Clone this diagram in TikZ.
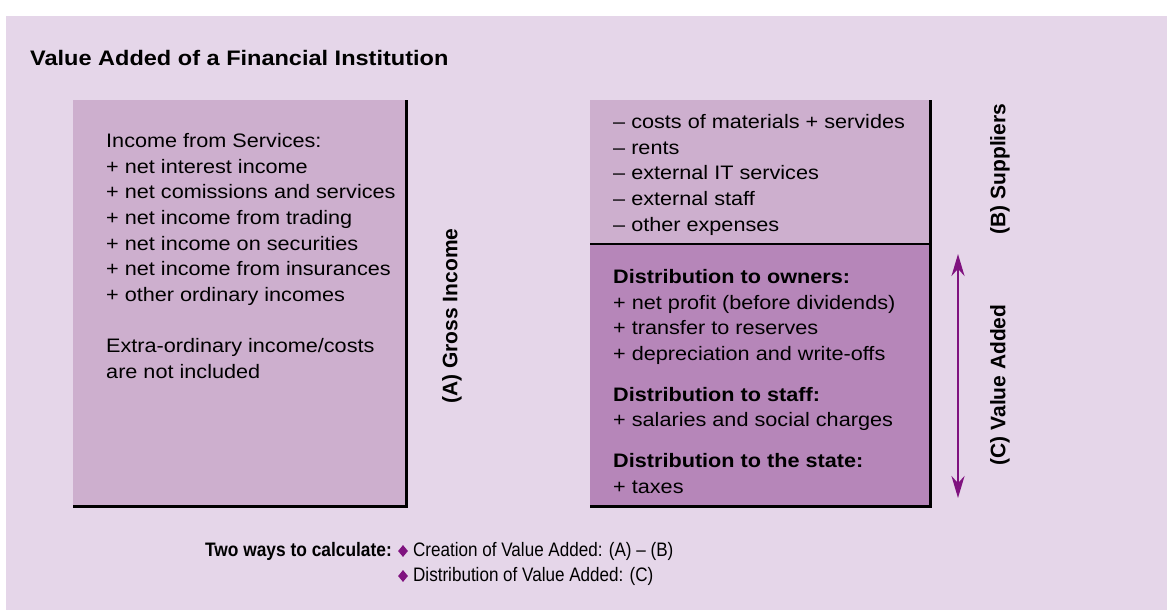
\documentclass[tikz,border=0pt]{standalone}
\usepackage{fontspec}
\setmainfont{Liberation Sans}
\usetikzlibrary{arrows.meta,calc,positioning,shapes.geometric}

\definecolor{bgpurple}{HTML}{E5D6E9}
\definecolor{lightbox}{HTML}{CDAFCE}
\definecolor{darkbox}{HTML}{B686B9}
\definecolor{vapurple}{HTML}{7F127F}

\tikzset{
  boxtext/.style={anchor=north west,inner sep=0pt,align=left,xscale=1.11,
    font=\fontsize{19.5}{25.7}\selectfont},
  sidelabel/.style={rotate=90,inner sep=0pt,font=\fontsize{21}{24}\selectfont\bfseries},
  edgeline/.style={line width=3pt,black},
  bullet/.style={diamond,fill=vapurple,inner sep=0pt,minimum width=10pt,minimum height=12pt},
  waytext/.style={anchor=west,inner sep=0pt,xscale=0.875,font=\fontsize{19.5}{22}\selectfont}
}

\begin{document}
\begin{tikzpicture}[x=1pt,y=-1pt]
\useasboundingbox (0,0) rectangle (1167,610);
\fill[bgpurple] (6,16) rectangle (1167,610);
\coordinate (LTL) at (73,100);
\coordinate (LBR) at (406,506);
\coordinate (RTL) at (590,100);
\coordinate (RMID) at (930,244);
\coordinate (RBR) at (930,506);
%the boxes
\fill[lightbox] (LTL) rectangle (LBR);
\fill[lightbox] (RTL) rectangle (RMID);
\fill[darkbox] (RTL |- RMID) rectangle (RBR);
\draw[edgeline] (LTL -| LBR) -- (LBR) -- (LTL |- LBR);
\draw[edgeline] (RTL -| RBR) -- (RBR) -- (RTL |- RBR);
\draw[edgeline,line width=2.5pt] (RTL |- RMID) -- (RMID);
%title
\node[anchor=west,inner sep=0pt,xscale=1.12,font=\fontsize{21}{24}\selectfont\bfseries] (TITLE) at (30,58) {Value Added of a Financial Institution};
%income
\node[boxtext] (INCOME) at (106,133) {Income from Services:\\
+ net interest income\\
+ net comissions and services\\
+ net income from trading\\
+ net income on securities\\
+ net income from insurances\\
+ other ordinary incomes\\[25.7pt]
Extra-ordinary income/costs\\
are not included};
%suppliers
\node[boxtext] (COSTS) at (613,114) {– costs of materials + servides\\
– rents\\
– external IT services\\
– external staff\\
– other expenses};
%distribution
\node[boxtext] (DISTR) at (613,269) {\textbf{Distribution to owners:}\\
+ net profit (before dividends)\\
+ transfer to reserves\\
+ depreciation and write-offs\\[15pt]
\textbf{Distribution to staff:}\\
+ salaries and social charges\\[15pt]
\textbf{Distribution to the state:}\\
+ taxes};
%side labels
\node[sidelabel] (GROSS) at (452,316) {(A) Gross Income};
\node[sidelabel] (SUPPL) at (1000,169) {(B) Suppliers};
\node[sidelabel] (VALADD) at (1000,385) {(C) Value Added};
\coordinate (VATOP) at (958,254);
\coordinate (VABOT) at (958,498);
\draw[vapurple,line width=2.5pt,{Stealth[width=13pt,length=22pt]}-{Stealth[width=13pt,length=22pt]}] (VATOP) -- (VABOT);
%two ways
\node[anchor=east,inner sep=0pt,xscale=0.89,font=\fontsize{19.5}{22}\selectfont\bfseries] (WAYS) at (392,551) {Two ways to calculate:};
\node[bullet] (BUL1) at (403,551) {};
\node[bullet] (BUL2) at (403,576) {};
\node[waytext] (CREATE) at (413,551) {Creation of Value Added: (A) – (B)};
\node[waytext] (DISTRIB) at (413,576) {Distribution of Value Added: (C)};
\end{tikzpicture}
\end{document}
